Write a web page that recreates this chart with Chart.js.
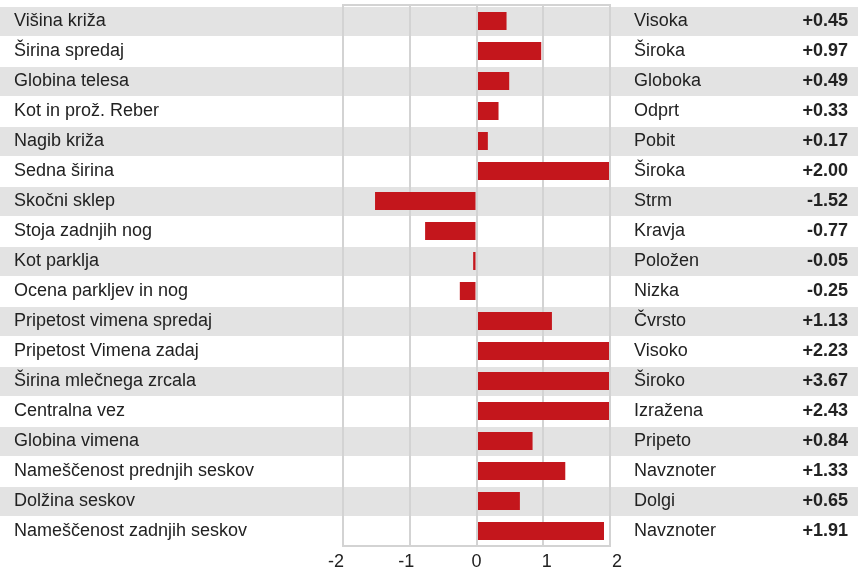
<!DOCTYPE html>
<html>
<head>
<meta charset="utf-8">
<script src="https://cdn.jsdelivr.net/npm/chart.js@4.4.1/dist/chart.umd.min.js"></script>
<style>
  html, body { margin: 0; padding: 0; background: #fff; }
  canvas { display: block; }
</style>
</head>
<body>
<canvas id="mainChart" width="858" height="569"></canvas>
<script>
// lastnosti (levo), opis (desno) in vrednosti
const lastnosti = ["Višina križa", "Širina spredaj", "Globina telesa", "Kot in prož. Reber", "Nagib križa",
  "Sedna širina", "Skočni sklep", "Stoja zadnjih nog", "Kot parklja", "Ocena parkljev in nog",
  "Pripetost vimena spredaj", "Pripetost Vimena zadaj", "Širina mlečnega zrcala", "Centralna vez",
  "Globina vimena", "Nameščenost prednjih seskov", "Dolžina seskov", "Nameščenost zadnjih seskov"];
const opisi = ["Visoka", "Široka", "Globoka", "Odprt", "Pobit", "Široka", "Strm", "Kravja", "Položen",
  "Nizka", "Čvrsto", "Visoko", "Široko", "Izražena", "Pripeto", "Navznoter", "Dolgi", "Navznoter"];
const vrednosti = [0.45, 0.97, 0.49, 0.33, 0.17, 2.00, -1.52, -0.77, -0.05, -0.25,
  1.13, 2.23, 3.67, 2.43, 0.84, 1.33, 0.65, 1.91];
const xTicks = [-2, -1, 0, 1, 2];

const vrednostiTxt = vrednosti.map(v => (v >= 0 ? '+' : '') + v.toFixed(2));

const GRID = '#d3d3d3';
const STRIPE = '#e3e3e3';
const BAR = '#c4161c';
const FONT = "'Liberation Sans', Arial, sans-serif";

// brez dodatnega roba od oznak
function brezRoba(s) {
  s.paddingTop = 0; s.paddingBottom = 0; s.paddingLeft = 0; s.paddingRight = 0;
}

// sivi pasovi cez celo sirino
const pasovi = {
  id: 'pasovi',
  beforeDraw(chart) {
    const c = chart.ctx, y = chart.scales.y;
    const h = (y.bottom - y.top) / lastnosti.length;
    c.save();
    c.fillStyle = STRIPE;
    lastnosti.forEach((l, i) => {
      if (i % 2 === 0) {
        const yc = y.getPixelForValue(i);
        c.fillRect(0, Math.round(yc - h / 2) + 1, chart.width, Math.round(h) - 1);
      }
    });
    c.restore();
  },
  afterDatasetsDraw(chart) {
    const c = chart.ctx, a = chart.chartArea, x = chart.scales.x;
    c.save();
    c.strokeStyle = GRID;
    c.lineWidth = 2;
    const x0 = Math.round(x.getPixelForValue(0));
    const x2 = Math.round(x.getPixelForValue(2));
    c.beginPath();
    c.moveTo(x0, a.top); c.lineTo(x0, a.bottom);
    c.moveTo(x2, a.top); c.lineTo(x2, a.bottom);
    // okvir zgoraj / spodaj
    c.moveTo(a.left - 1, a.top - 1); c.lineTo(a.right + 1, a.top - 1);
    c.moveTo(a.left - 1, a.bottom); c.lineTo(a.right + 1, a.bottom);
    c.stroke();
    c.restore();
  }
};

const ctx = document.getElementById('mainChart').getContext('2d');
new Chart(ctx, {
  type: 'bar',
  data: {
    labels: lastnosti,
    datasets: [{
      data: vrednosti,
      backgroundColor: BAR,
      borderWidth: 0,
      barPercentage: 0.6,
      categoryPercentage: 1.0
    }]
  },
  options: {
    indexAxis: 'y',
    responsive: false,
    animation: false,
    layout: { padding: { top: 6, left: 14, right: 10, bottom: 0 } },
    plugins: { legend: { display: false }, tooltip: { enabled: false } },
    scales: {
      x: {
        type: 'linear', min: -2, max: 2, weight: 0,
        afterBuildTicks: s => { s.ticks = xTicks.map(v => ({ value: v })); },
        grid: { color: GRID, lineWidth: 2, drawTicks: false },
        border: { display: false },
        ticks: { display: false },
        afterFit: s => { s.height = 0; brezRoba(s); }
      },
      // oznake osi x so v izvirniku nekoliko razmaknjene
      x2: {
        type: 'linear', axis: 'x', position: 'bottom', min: -1.9, max: 1.9, weight: 1,
        afterBuildTicks: s => { s.ticks = xTicks.map(v => ({ value: v })); },
        grid: { display: false, drawTicks: false },
        border: { display: false },
        ticks: { color: '#222', font: { family: FONT, size: 18 }, padding: 5, maxRotation: 0 },
        afterFit: s => { s.height = 23; brezRoba(s); }
      },
      y: {
        grid: { display: false }, border: { display: false },
        ticks: { color: '#222', font: { family: FONT, size: 18 }, crossAlign: 'far', padding: 0, autoSkip: false },
        afterFit: s => { s.width = 329; brezRoba(s); }
      },
      y2: {
        type: 'category', axis: 'y', position: 'right', weight: 0, offset: true,
        labels: opisi,
        grid: { display: false, drawTicks: false }, border: { display: false },
        ticks: { color: '#222', font: { family: FONT, size: 18 }, crossAlign: 'near', padding: 24, autoSkip: false },
        afterFit: s => { s.width = 158; brezRoba(s); }
      },
      y3: {
        type: 'category', axis: 'y', position: 'right', weight: 1, offset: true,
        labels: vrednostiTxt,
        grid: { display: false, drawTicks: false }, border: { display: false },
        ticks: { color: '#222', font: { family: FONT, size: 18, weight: 'bold' }, crossAlign: 'far', padding: 0, autoSkip: false },
        afterFit: s => { s.width = 80; brezRoba(s); }
      }
    }
  },
  plugins: [pasovi]
});
</script>
</body>
</html>
